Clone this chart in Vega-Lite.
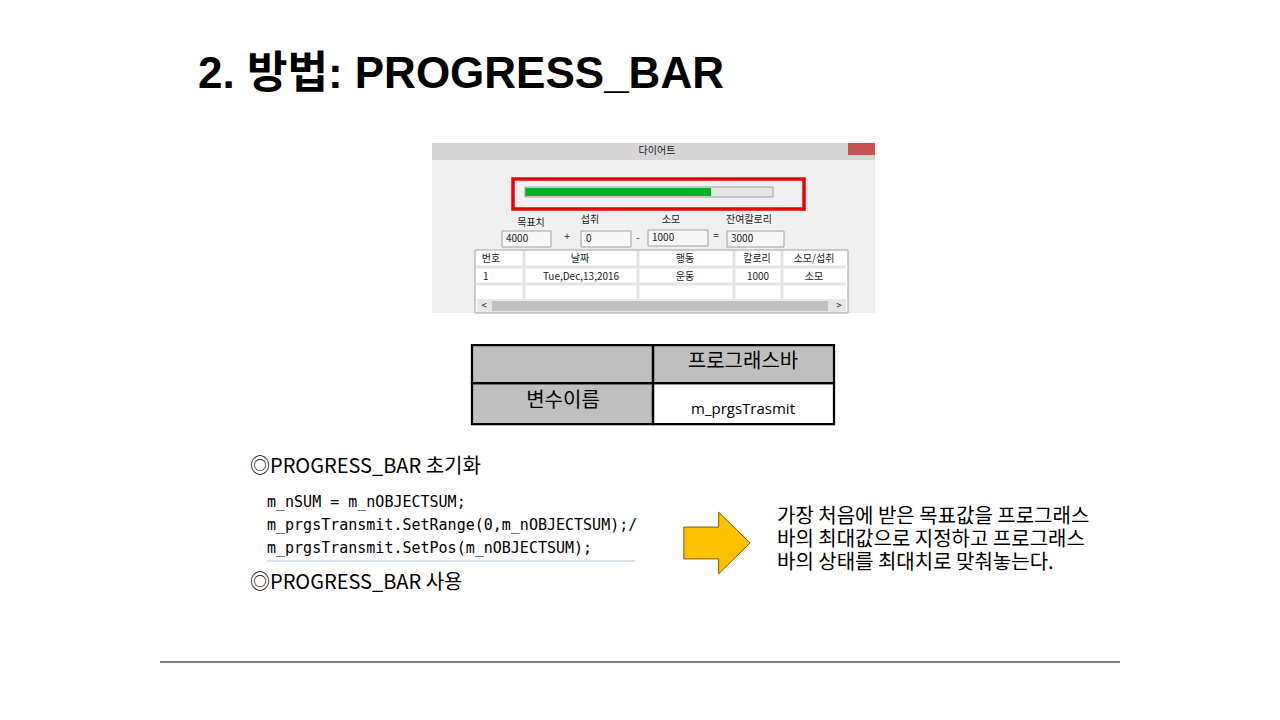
{
  "$schema": "https://vega.github.io/schema/vega-lite/v6.json",
  "width": 1280,
  "height": 720,
  "autosize": "none",
  "padding": 0,
  "background": "white",
  "config": {"view": {"stroke": null}, "font": "Noto Sans CJK KR"},
  "datasets": {
    "boxes": [
      {"role": "window", "x": 432, "x2": 875, "y": 143, "y2": 313},
      {"role": "titlebar", "x": 432, "x2": 875, "y": 143, "y2": 160},
      {"role": "close", "x": 848, "x2": 875, "y": 143, "y2": 155},
      {"role": "trough", "x": 525, "x2": 773, "y": 187, "y2": 197},
      {"role": "green", "x": 525, "x2": 711, "y": 188, "y2": 196},
      {"role": "field", "x": 502, "x2": 551, "y": 231, "y2": 247},
      {"role": "field", "x": 581, "x2": 631, "y": 231, "y2": 247},
      {"role": "field", "x": 648, "x2": 708, "y": 230, "y2": 246},
      {"role": "field", "x": 727, "x2": 784, "y": 231, "y2": 247},
      {"role": "list", "x": 475, "x2": 848, "y": 250, "y2": 313},
      {"role": "scroll", "x": 477, "x2": 846, "y": 299, "y2": 313},
      {"role": "thumb", "x": 492, "x2": 828, "y": 301, "y2": 311},
      {"role": "tablegray", "x": 472, "x2": 653, "y": 345, "y2": 424},
      {"role": "tablegray", "x": 653, "x2": 834, "y": 345, "y2": 383},
      {"role": "tablewhite", "x": 653, "x2": 834, "y": 383, "y2": 424}
    ],
    "frames": [
      {"role": "red", "x": 513, "x2": 804, "y": 179, "y2": 209},
      {"role": "black", "x": 472, "x2": 653, "y": 345, "y2": 383},
      {"role": "black", "x": 653, "x2": 834, "y": 345, "y2": 383},
      {"role": "black", "x": 472, "x2": 653, "y": 383, "y2": 424},
      {"role": "black", "x": 653, "x2": 834, "y": 383, "y2": 424},
      {"role": "gray", "x": 502, "x2": 551, "y": 231, "y2": 247},
      {"role": "gray", "x": 581, "x2": 631, "y": 231, "y2": 247},
      {"role": "gray", "x": 648, "x2": 708, "y": 230, "y2": 246},
      {"role": "gray", "x": 727, "x2": 784, "y": 231, "y2": 247},
      {"role": "gray", "x": 475, "x2": 848, "y": 250, "y2": 313},
      {"role": "gray", "x": 525, "x2": 773, "y": 187, "y2": 197}
    ],
    "rules": [
      {"role": "black", "x": 160, "x2": 1120, "y": 662, "y2": 662},
      {"role": "code", "x": 267, "x2": 635, "y": 561, "y2": 561},
      {"role": "grid", "x": 476, "x2": 846, "y": 267, "y2": 267},
      {"role": "grid", "x": 476, "x2": 846, "y": 284, "y2": 284},
      {"role": "grid", "x": 524, "x2": 524, "y": 251, "y2": 299},
      {"role": "grid", "x": 638, "x2": 638, "y": 251, "y2": 299},
      {"role": "grid", "x": 734, "x2": 734, "y": 251, "y2": 299},
      {"role": "grid", "x": 782, "x2": 782, "y": 251, "y2": 299}
    ],
    "texts": [
      {"role": "title", "text": "2. 방법: PROGRESS_BAR", "x": 198, "y": 75, "align": "left"},
      {"role": "ui", "text": "다이어트", "x": 657, "y": 151, "align": "center"},
      {"role": "ui", "text": "목표치", "x": 531, "y": 223, "align": "center"},
      {"role": "ui", "text": "섭취", "x": 590, "y": 220, "align": "center"},
      {"role": "ui", "text": "소모", "x": 671, "y": 220, "align": "center"},
      {"role": "ui", "text": "잔여칼로리", "x": 749, "y": 220, "align": "center"},
      {"role": "ui", "text": "4000", "x": 506, "y": 239, "align": "left"},
      {"role": "ui", "text": "0", "x": 586, "y": 239, "align": "left"},
      {"role": "ui", "text": "1000", "x": 652, "y": 238, "align": "left"},
      {"role": "ui", "text": "3000", "x": 731, "y": 239, "align": "left"},
      {"role": "ui", "text": "+", "x": 567, "y": 237, "align": "center"},
      {"role": "ui", "text": "-", "x": 638, "y": 238, "align": "center"},
      {"role": "ui", "text": "=", "x": 716, "y": 236, "align": "center"},
      {"role": "ui", "text": "번호", "x": 491, "y": 259, "align": "center"},
      {"role": "ui", "text": "날짜", "x": 580, "y": 259, "align": "center"},
      {"role": "ui", "text": "행동", "x": 685, "y": 259, "align": "center"},
      {"role": "ui", "text": "칼로리", "x": 757, "y": 259, "align": "center"},
      {"role": "ui", "text": "소모/섭취", "x": 814, "y": 259, "align": "center"},
      {"role": "ui", "text": "1", "x": 483, "y": 277, "align": "left"},
      {"role": "ui", "text": "Tue,Dec,13,2016", "x": 581, "y": 277, "align": "center"},
      {"role": "ui", "text": "운동", "x": 685, "y": 277, "align": "center"},
      {"role": "ui", "text": "1000", "x": 758, "y": 277, "align": "center"},
      {"role": "ui", "text": "소모", "x": 814, "y": 277, "align": "center"},
      {"role": "ui", "text": "<", "x": 484, "y": 306, "align": "center"},
      {"role": "ui", "text": ">", "x": 839, "y": 306, "align": "center"},
      {"role": "table", "text": "프로그래스바", "x": 743, "y": 362, "align": "center"},
      {"role": "table", "text": "변수이름", "x": 563, "y": 401, "align": "center"},
      {"role": "tablesmall", "text": "m_prgsTrasmit", "x": 743, "y": 409, "align": "center"},
      {"role": "heading", "text": "◎PROGRESS_BAR 초기화", "x": 250, "y": 467, "align": "left"},
      {"role": "heading", "text": "◎PROGRESS_BAR 사용", "x": 250, "y": 583, "align": "left"},
      {"role": "code", "text": "m_nSUM = m_nOBJECTSUM;", "x": 267, "y": 502, "align": "left"},
      {"role": "code", "text": "m_prgsTransmit.SetRange(0,m_nOBJECTSUM);/", "x": 267, "y": 525, "align": "left"},
      {"role": "code", "text": "m_prgsTransmit.SetPos(m_nOBJECTSUM);", "x": 267, "y": 548, "align": "left"},
      {"role": "note", "text": "가장 처음에 받은 목표값을 프로그래스", "x": 777, "y": 517, "align": "left"},
      {"role": "note", "text": "바의 최대값으로 지정하고 프로그래스", "x": 777, "y": 540, "align": "left"},
      {"role": "note", "text": "바의 상태를 최대치로 맞춰놓는다.", "x": 777, "y": 563, "align": "left"}
    ],
    "arrow": [{"x": 717, "y": 543}]
  },
  "encoding": {
    "x": {"field": "x", "type": "quantitative", "scale": {"domain": [0, 1280], "nice": false, "zero": false}, "axis": null},
    "y": {"field": "y", "type": "quantitative", "scale": {"domain": [0, 720], "nice": false, "zero": false, "reverse": true}, "axis": null}
  },
  "layer": [
    {
      "data": {"name": "boxes"},
      "mark": {"type": "rect"},
      "encoding": {
        "x2": {"field": "x2"}, "y2": {"field": "y2"},
        "color": {"field": "role", "type": "nominal", "legend": null,
          "scale": {"domain": ["window", "titlebar", "close", "trough", "green", "field", "list", "scroll", "thumb", "tablegray", "tablewhite"],
                    "range": ["#f0f0f0", "#d6d6d6", "#c75050", "#e6e6e6", "#06b025", "#f7f7f7", "#ffffff", "#e8e8e8", "#c2c2c2", "#bfbfbf", "#ffffff"]}}
      }
    },
    {
      "data": {"name": "frames"},
      "mark": {"type": "rect", "filled": false},
      "encoding": {
        "x2": {"field": "x2"}, "y2": {"field": "y2"},
        "stroke": {"field": "role", "type": "nominal", "legend": null,
          "scale": {"domain": ["red", "black", "gray"], "range": ["#ee0000", "#000000", "#a0a0a0"]}},
        "strokeWidth": {"field": "role", "type": "nominal", "legend": null,
          "scale": {"domain": ["red", "black", "gray"], "range": [3.5, 1, 1]}}
      }
    },
    {
      "data": {"name": "rules"},
      "mark": {"type": "rule"},
      "encoding": {
        "x2": {"field": "x2"}, "y2": {"field": "y2"},
        "stroke": {"field": "role", "type": "nominal", "legend": null,
          "scale": {"domain": ["black", "code", "grid"], "range": ["#000000", "#dde3ec", "#e4e4e4"]}},
        "strokeWidth": {"field": "role", "type": "nominal", "legend": null,
          "scale": {"domain": ["black", "code", "grid"], "range": [1, 3, 1]}}
      }
    },
    {
      "data": {"name": "arrow"},
      "mark": {"type": "point", "filled": true, "fill": "#ffc000", "stroke": "#7f6000", "strokeWidth": 1, "opacity": 1,
        "size": 4400,
        "shape": "M -1 -0.48 L 0.05 -0.48 L 0.05 -0.93 L 1 0 L 0.05 0.93 L 0.05 0.48 L -1 0.48 Z"}
    },
    {
      "data": {"name": "texts"}, "transform": [{"filter": "datum.role == 'title'"}],
      "mark": {"type": "text", "align": "left", "baseline": "middle", "fontSize": 44, "fontWeight": "bold", "font": "Liberation Sans, Noto Sans CJK KR", "color": "#000"},
      "encoding": {"text": {"field": "text"}}
    },
    {
      "data": {"name": "texts"}, "transform": [{"filter": "datum.role == 'ui' && datum.align == 'left'"}],
      "mark": {"type": "text", "align": "left", "baseline": "middle", "fontSize": 10, "font": "Noto Sans CJK KR", "color": "#222"},
      "encoding": {"text": {"field": "text"}}
    },
    {
      "data": {"name": "texts"}, "transform": [{"filter": "datum.role == 'ui' && datum.align == 'center'"}],
      "mark": {"type": "text", "align": "center", "baseline": "middle", "fontSize": 10, "font": "Noto Sans CJK KR", "color": "#222"},
      "encoding": {"text": {"field": "text"}}
    },
    {
      "data": {"name": "texts"}, "transform": [{"filter": "datum.role == 'table'"}],
      "mark": {"type": "text", "align": "center", "baseline": "middle", "fontSize": 20, "font": "Noto Sans CJK KR", "color": "#000"},
      "encoding": {"text": {"field": "text"}}
    },
    {
      "data": {"name": "texts"}, "transform": [{"filter": "datum.role == 'tablesmall'"}],
      "mark": {"type": "text", "align": "center", "baseline": "middle", "fontSize": 15, "font": "Open Sans", "color": "#000"},
      "encoding": {"text": {"field": "text"}}
    },
    {
      "data": {"name": "texts"}, "transform": [{"filter": "datum.role == 'heading'"}],
      "mark": {"type": "text", "align": "left", "baseline": "middle", "fontSize": 20, "font": "Noto Sans CJK KR", "color": "#000"},
      "encoding": {"text": {"field": "text"}}
    },
    {
      "data": {"name": "texts"}, "transform": [{"filter": "datum.role == 'code'"}],
      "mark": {"type": "text", "align": "left", "baseline": "middle", "fontSize": 15, "font": "DejaVu Sans Mono", "color": "#000"},
      "encoding": {"text": {"field": "text"}}
    },
    {
      "data": {"name": "texts"}, "transform": [{"filter": "datum.role == 'note'"}],
      "mark": {"type": "text", "align": "left", "baseline": "middle", "fontSize": 20, "font": "Noto Sans CJK KR", "color": "#000"},
      "encoding": {"text": {"field": "text"}}
    }
  ],
  "resolve": {"scale": {"color": "independent", "stroke": "independent", "strokeWidth": "independent"}}
}
